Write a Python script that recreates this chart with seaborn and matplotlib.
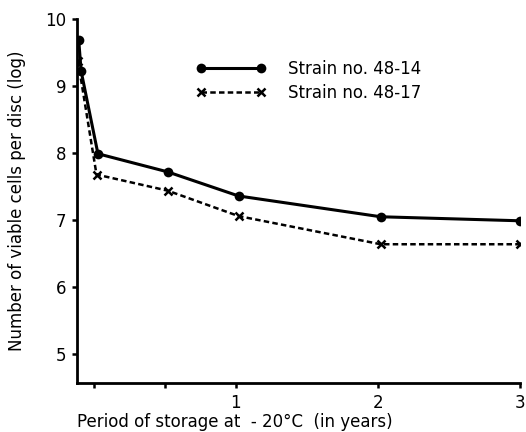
import pandas as pd
import seaborn as sns
import matplotlib.pyplot as plt

# years of storage at -20 C (first points sit on the axis, t = 0)
years_14 = [-0.105, -0.088, 0.03, 0.52, 1.02, 2.02, 3.0]
cells_14 = [9.68, 9.22, 7.99, 7.72, 7.36, 7.05, 6.99]
years_17 = [-0.11, 0.02, 0.52, 1.02, 2.02, 3.0]
cells_17 = [9.37, 7.68, 7.44, 7.06, 6.64, 6.64]
x_ticks = [0, 0.5, 1, 2, 3]
x_labels = ["", "", "1", "2", "3"]
y_ticks = [5, 6, 7, 8, 9, 10]

sns.set_style("ticks")
plt.rcParams["font.family"] = ["DejaVu Sans"]
plt.rcParams["text.color"] = "black"
plt.rcParams["axes.labelcolor"] = "black"
plt.rcParams["xtick.color"] = "black"
plt.rcParams["ytick.color"] = "black"

fig = plt.figure(figsize=(5.26, 4.32), dpi=100)
ax = fig.add_axes([0.147, 0.1134, 0.8416, 0.8426])

d14 = pd.DataFrame({"x": years_14, "y": cells_14})
d17 = pd.DataFrame({"x": years_17, "y": cells_17})
sns.lineplot(data=d14, x="x", y="y", ax=ax, color="black", lw=2.2,
             marker="o", markersize=7, markeredgewidth=0,
             label="Strain no. 48-14")
sns.lineplot(data=d17, x="x", y="y", ax=ax, color="black", lw=1.8,
             linestyle=(0, (2.2, 1.3)), marker="x", markersize=6,
             markeredgewidth=1.8, markeredgecolor="black",
             label="Strain no. 48-17")

ax.set_xlim(-0.115, 3.0)
ax.set_ylim(4.57, 10)
ax.set_xticks(x_ticks)
ax.set_xticklabels(x_labels)
ax.set_yticks(y_ticks)
ax.tick_params(axis="both", labelsize=12, width=1.8, length=3.8, color="black")
ax.tick_params(axis="x", pad=4)
ax.tick_params(axis="y", pad=4)
for s in ["left", "bottom"]:
    ax.spines[s].set_linewidth(2)
    ax.spines[s].set_color("black")
sns.despine(ax=ax)

ax.set_xlabel("Period of storage at  - 20°C  (in years)", fontsize=12, loc="left",
              labelpad=1)
ax.set_ylabel("Number of viable cells per disc (log)", fontsize=12, labelpad=14)

ax.legend(frameon=False, loc="upper left", bbox_to_anchor=(0.268, 0.887),
          fontsize=12, numpoints=2, handlelength=4.2, handletextpad=1.35,
          labelspacing=0.35, borderaxespad=0, borderpad=0)

plt.savefig("out.png", dpi=100)
plt.close()
